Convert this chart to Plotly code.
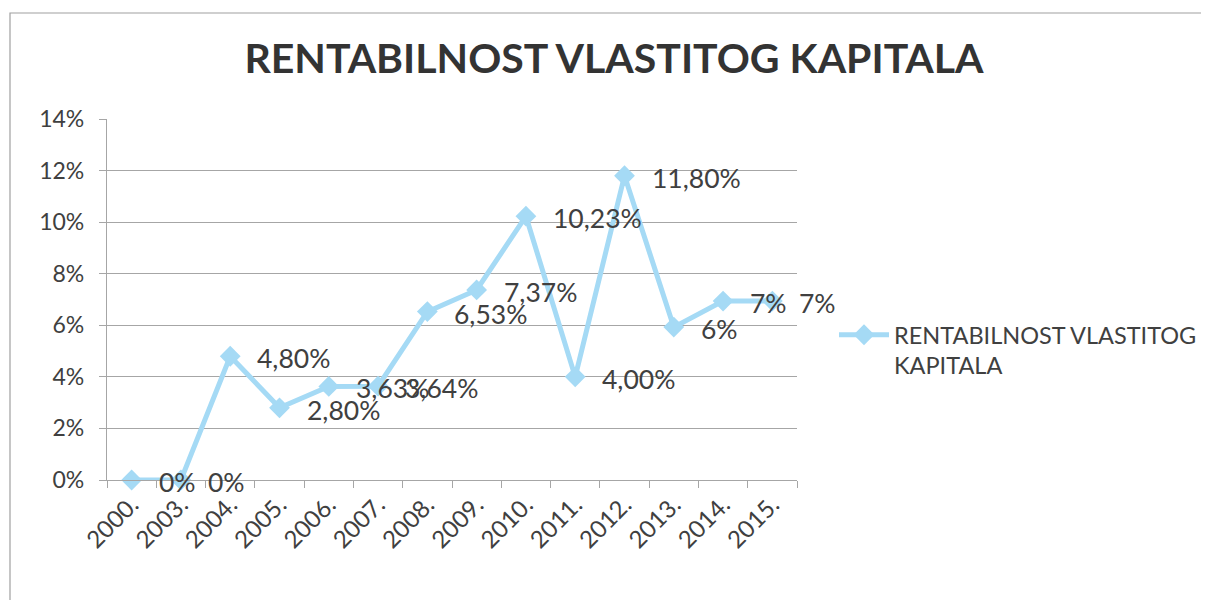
import plotly.graph_objects as go

years = ["2000.", "2003.", "2004.", "2005.", "2006.", "2007.", "2008.",
         "2009.", "2010.", "2011.", "2012.", "2013.", "2014.", "2015."]
values = [0.0, 0.0, 4.80, 2.80, 3.63, 3.64, 6.53, 7.37, 10.23, 4.00, 11.80, 5.93, 6.94, 6.94]
labels = ["0%", "0%", "4,80%", "2,80%", "3,63%", "3,64%", "6,53%", "7,37%",
          "10,23%", "4,00%", "11,80%", "6%", "7%", "7%"]
tick_vals = [0, 2, 4, 6, 8, 10, 12, 14]
tick_text = ["0%", "2%", "4%", "6%", "8%", "10%", "12%", "14%"]

W, H = 1209, 600
OFF = 8  # page body margin
L, R, T, B = 107 - OFF, 797 - OFF, 119 - OFF, 480 - OFF

FONT = "Lato, Calibri, sans-serif"
TXT = "#404040"
LINE = "#a5daf5"

fig = go.Figure()
fig.add_trace(go.Scatter(
    x=years, y=values, mode="lines+markers",
    name="RENTABILNOST VLASTITOG<br>KAPITALA",
    line=dict(color=LINE, width=5),
    marker=dict(symbol="diamond", size=16, color=LINE),
    cliponaxis=False,
))

# data labels: category index on the category axis, value on the y axis
for i, (v, lab) in enumerate(zip(values, labels)):
    fig.add_annotation(x=i, y=v, xref="x", yref="y", text=lab, showarrow=False,
                       xanchor="left", yanchor="middle", xshift=25, yshift=-2,
                       font=dict(family=FONT, size=26.5, color=TXT))

def px_x(p):
    return (p - OFF - L) / (R - L)

def px_y(p):
    return (B - (p - OFF)) / (B - T)

fig.add_shape(type="rect", xref="paper", yref="paper",
              x0=px_x(10), x1=px_x(1240), y0=px_y(640), y1=px_y(13),
              line=dict(color="#a0a0a0", width=1.2), fillcolor="rgba(0,0,0,0)", layer="below")

fig.update_layout(
    width=W, height=H,
    margin=dict(l=L, r=W - R, t=T, b=H - B),
    paper_bgcolor="white", plot_bgcolor="white",
    title=dict(text="<b>RENTABILNOST VLASTITOG KAPITALA</b>",
               x=(614 - OFF) / W, xref="container", xanchor="center",
               y=1 - (59 - OFF) / H, yref="container", yanchor="middle",
               font=dict(family=FONT, size=41, color="#333333")),
    showlegend=True,
    legend=dict(x=px_x(834), y=px_y(313), xanchor="left", yanchor="top",
                valign="top", font=dict(family=FONT, size=23.5, color=TXT),
                bgcolor="rgba(0,0,0,0)", itemwidth=50),
    xaxis=dict(type="category", range=[-0.5, 13.5], showgrid=False,
               tickson="boundaries", ticks="outside", ticklen=7, tickcolor="#a6a6a6",
               showline=True, linecolor="#a6a6a6", linewidth=1.2,
               tickangle=-45, tickfont=dict(family=FONT, size=24, color=TXT)),
    yaxis=dict(range=[0, 14], tickvals=tick_vals, ticktext=tick_text,
               showgrid=True, gridcolor="#a6a6a6", gridwidth=1.2,
               ticks="outside", ticklen=7, tickcolor="#a6a6a6", ticklabelstandoff=10,
               showline=True, linecolor="#a6a6a6", linewidth=1.2, zeroline=False,
               tickfont=dict(family=FONT, size=23, color=TXT)),
)

fig.write_html("out.html")
